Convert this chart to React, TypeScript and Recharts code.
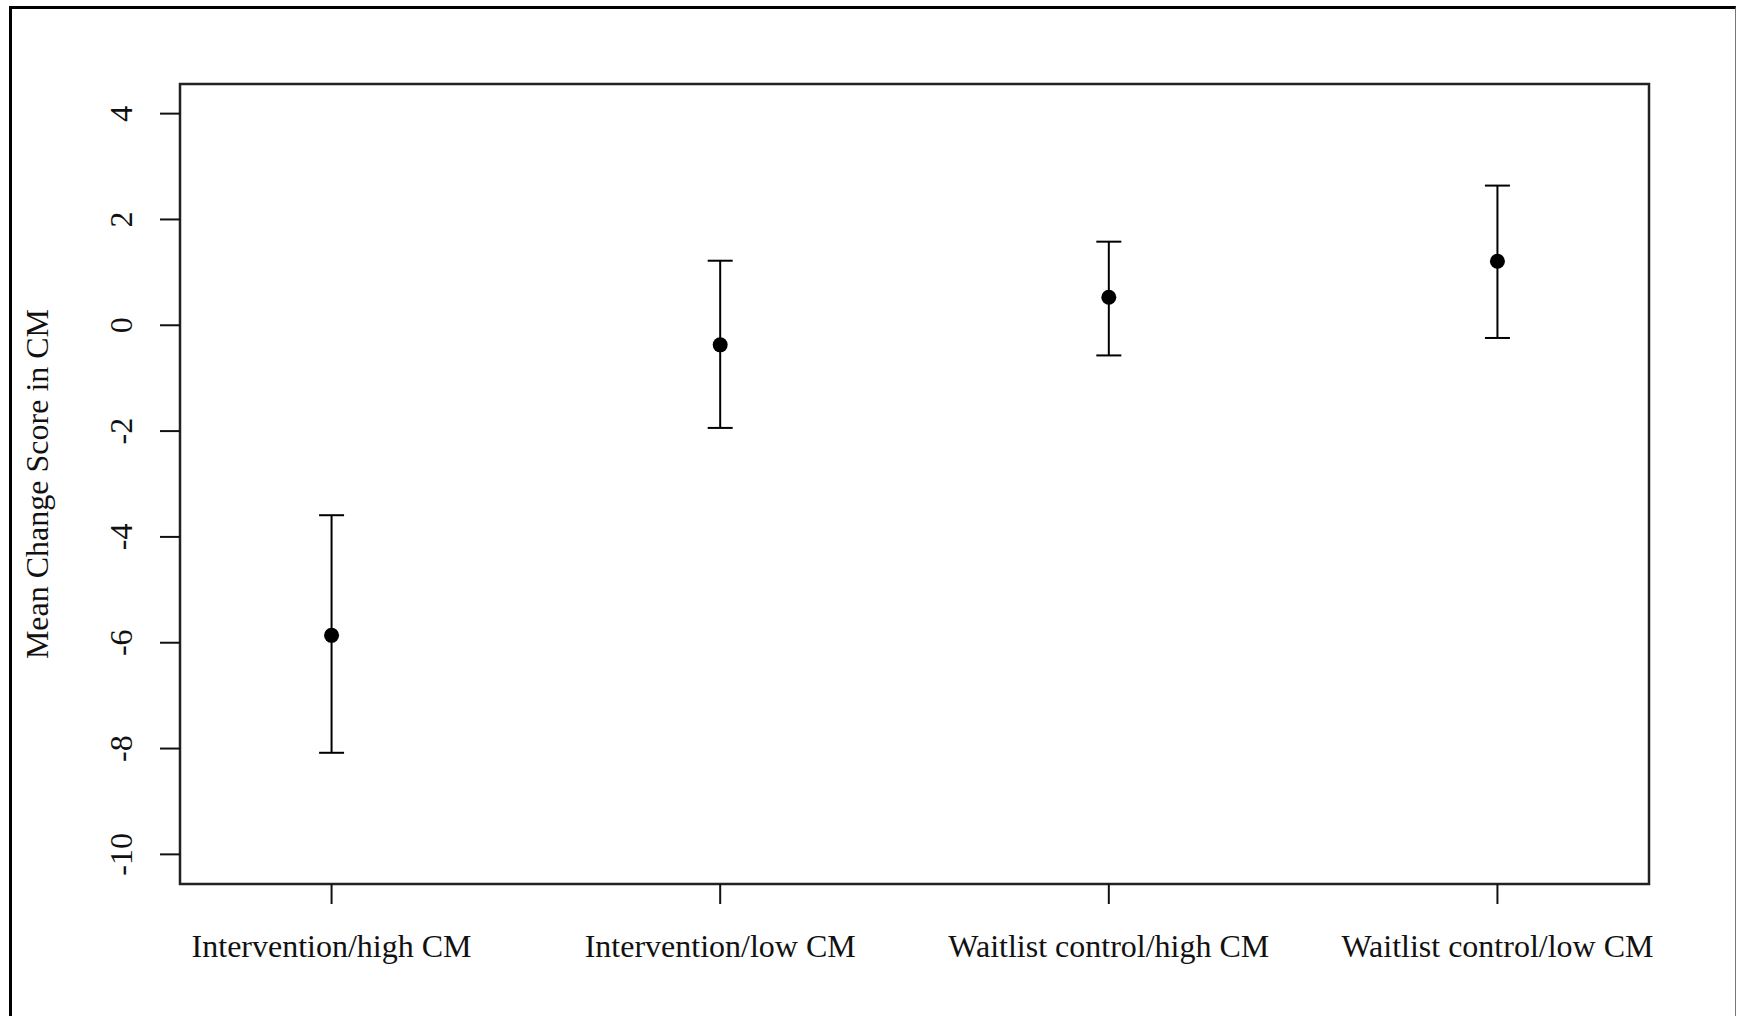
import React from "react";
import {
  ScatterChart,
  Scatter,
  XAxis,
  YAxis,
  ErrorBar,
  ReferenceArea,
  Label,
} from "recharts";

const categories = [
  "Intervention/high CM",
  "Intervention/low CM",
  "Waitlist control/high CM",
  "Waitlist control/low CM",
];
const positions = [1, 2, 3, 4];
const means = [-5.86, -0.37, 0.53, 1.21];
const lowers = [-8.08, -1.94, -0.57, -0.24];
const uppers = [-3.59, 1.22, 1.58, 2.64];
const yTicks = [-10, -8, -6, -4, -2, 0, 2, 4];
const yDomain = [-10.56, 4.56];
const xDomain = [0.61, 4.39];
const yTitle = "Mean Change Score in CM";

const data = positions.map((x, i) => ({
  x,
  mean: means[i],
  err: [means[i] - lowers[i], uppers[i] - means[i]],
}));

const FONT = "'Liberation Serif', 'Times New Roman', serif";
const FS = 32;

const XTick = (props: any) => {
  const { x, y, payload } = props;
  return (
    <text
      x={x}
      y={y}
      dy="0.71em"
      textAnchor="middle"
      fontFamily={FONT}
      fontSize={FS}
      fill="#111"
    >
      {categories[positions.indexOf(payload.value)]}
    </text>
  );
};

const YTick = (props: any) => {
  const { x, y, payload } = props;
  return (
    <text
      x={x}
      y={y}
      transform={`rotate(-90, ${x}, ${y})`}
      textAnchor="middle"
      fontFamily={FONT}
      fontSize={FS}
      fill="#111"
    >
      {payload.value}
    </text>
  );
};

const YTitle = (props: any) => {
  const vb = props.viewBox || {};
  const cx = vb.x - 32;
  const cy = vb.y + vb.height / 2;
  return (
    <text
      x={cx}
      y={cy}
      transform={`rotate(-90, ${cx}, ${cy})`}
      textAnchor="middle"
      fontFamily={FONT}
      fontSize={FS}
      fill="#111"
    >
      {yTitle}
    </text>
  );
};

export default function App() {
  return (
    <div
      style={{
        position: "fixed",
        left: 0,
        top: 0,
        width: 1737,
        height: 1016,
        overflow: "hidden",
        background: "#fff",
      }}
    >
      <div
        style={{
          position: "absolute",
          left: 9,
          top: 6,
          width: 1737 - 9 - 3 - 1 - 1,
          height: 1016,
          borderTop: "3px solid #000",
          borderLeft: "3px solid #000",
          borderRight: "1px solid #777",
          boxSizing: "content-box",
        }}
      />
      <div style={{ position: "absolute", left: 0, top: 0 }}>
        <ScatterChart
          width={1737}
          height={1016}
          margin={{ top: 84, right: 88, bottom: 72, left: 80 }}
        >
          <XAxis
            type="number"
            dataKey="x"
            domain={xDomain}
            ticks={positions}
            allowDataOverflow
            axisLine={false}
            tickLine={{ stroke: "#111", strokeWidth: 2 }}
            tickSize={20}
            tickMargin={30}
            tick={<XTick />}
            height={60}
            interval={0}
          />
          <YAxis
            type="number"
            dataKey="mean"
            domain={yDomain}
            ticks={yTicks}
            allowDataOverflow
            axisLine={false}
            tickLine={{ stroke: "#111", strokeWidth: 2 }}
            tickSize={20}
            tickMargin={28}
            tick={<YTick />}
            width={100}
            interval={0}
          >
            <Label content={<YTitle />} />
          </YAxis>
          <ReferenceArea
            x1={xDomain[0]}
            x2={xDomain[1]}
            y1={yDomain[0]}
            y2={yDomain[1]}
            fill="none"
            stroke="#222"
            strokeWidth={2.5}
            fillOpacity={0}
            ifOverflow="visible"
          />
          <Scatter
            data={data}
            isAnimationActive={false}
            shape={(p: any) => <circle cx={p.cx} cy={p.cy} r={7.5} fill="#000" />}
          >
            <ErrorBar
              dataKey="err"
              direction="y"
              width={12.5}
              stroke="#000"
              strokeWidth={2}
              isAnimationActive={false}
            />
          </Scatter>
        </ScatterChart>
      </div>
    </div>
  );
}
